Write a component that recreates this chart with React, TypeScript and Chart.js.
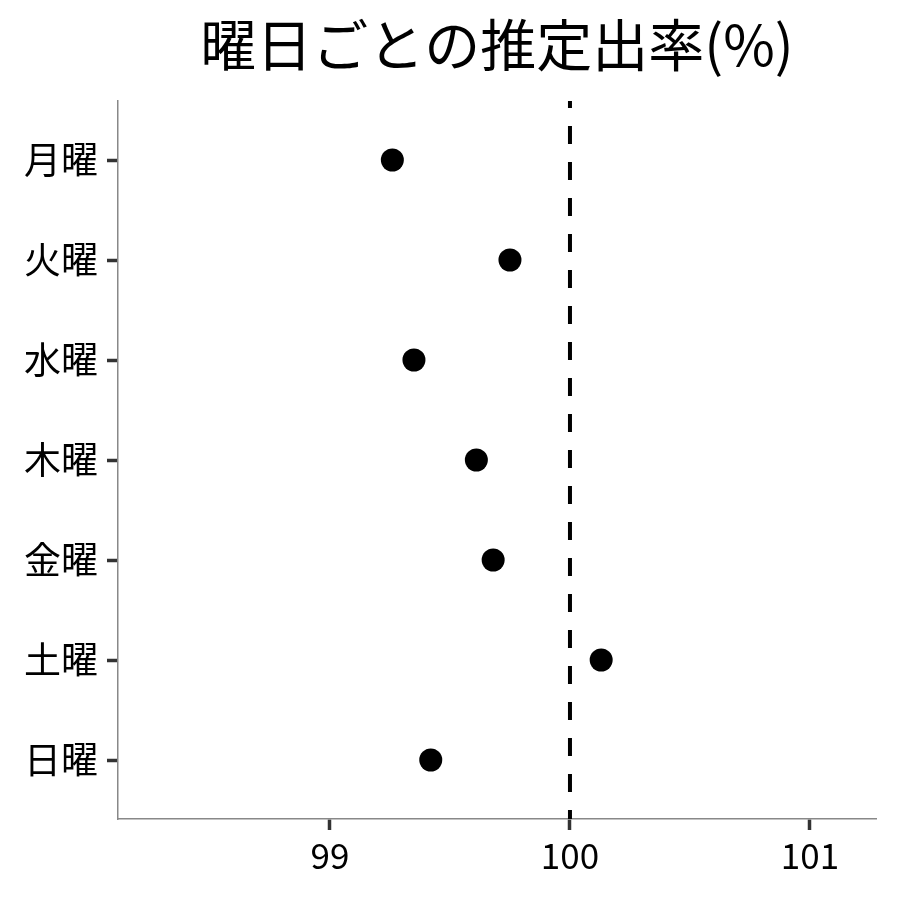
import React, { useEffect, useRef } from "react";
import { Chart, registerables } from "chart.js";

Chart.register(...registerables);

const days = ["月曜", "火曜", "水曜", "木曜", "金曜", "土曜", "日曜"];
const rates = [99.26, 99.75, 99.35, 99.61, 99.68, 100.13, 99.42];
const xTicks = [99, 100, 101];
const refValue = 100;
const titleText = "曜日ごとの推定出率(%)";

const FONT = "'Noto Sans CJK JP', 'Noto Sans', sans-serif";
const X_MIN = 98.117;
const X_MAX = 101.275;
const Y_MIN = -0.59;
const Y_MAX = 6.59;

export default function App() {
  const ref = useRef<HTMLCanvasElement | null>(null);

  useEffect(() => {
    if (!ref.current) return;
    const chart = new Chart(ref.current, {
      type: "scatter",
      data: {
        datasets: [
          {
            type: "line",
            data: [
              { x: refValue, y: Y_MIN },
              { x: refValue, y: Y_MAX },
            ],
            borderColor: "#000",
            borderWidth: 4,
            borderDash: [18, 18],
            borderDashOffset: 11,
            pointRadius: 0,
            fill: false,
          } as any,
          {
            data: rates.map((v, i) => ({ x: v, y: i })),
            backgroundColor: "#000",
            borderWidth: 0,
            pointRadius: 11.5,
            pointHoverRadius: 11.5,
          },
        ],
      },
      options: {
        animation: false,
        responsive: false,
        devicePixelRatio: 1,
        layout: { padding: { left: 0, right: 24, top: 0, bottom: 0 } },
        plugins: {
          legend: { display: false },
          tooltip: { enabled: false },
          title: {
            display: true,
            fullSize: false,
            text: titleText,
            color: "#000",
            font: { family: FONT, size: 56, weight: "normal" },
            padding: { top: 11.4, bottom: 22.4 },
          },
        },
        scales: {
          x: {
            type: "linear",
            min: X_MIN,
            max: X_MAX,
            afterBuildTicks: (axis: any) => {
              axis.ticks = xTicks.map((v) => ({ value: v }));
            },
            afterFit: (s: any) => {
              s.height = 81;
            },
            ticks: {
              color: "#000",
              font: { family: FONT, size: 35 },
              padding: 5,
              callback: (v: any) => String(v),
            },
            grid: {
              drawOnChartArea: false,
              drawTicks: true,
              tickLength: 11,
              tickWidth: 3.5,
              tickColor: "#333",
            },
            border: { color: "#888", width: 1.5 },
          },
          y: {
            type: "linear",
            reverse: true,
            min: Y_MIN,
            max: Y_MAX,
            afterBuildTicks: (axis: any) => {
              axis.ticks = days.map((_, i) => ({ value: i }));
            },
            afterFit: (s: any) => {
              s.width = 118;
            },
            ticks: {
              color: "#000",
              font: { family: FONT, size: 37 },
              padding: 9,
              callback: (v: any) => days[v] ?? "",
            },
            grid: {
              drawOnChartArea: false,
              drawTicks: true,
              tickLength: 11,
              tickWidth: 3.5,
              tickColor: "#333",
            },
            border: { color: "#888", width: 1.5 },
          },
        },
      },
    });
    return () => chart.destroy();
  }, []);

  return (
    <div style={{ position: "fixed", left: 0, top: 0, width: 900, height: 900, background: "#fff" }}>
      <canvas ref={ref} width={900} height={900} style={{ display: "block" }} />
    </div>
  );
}
